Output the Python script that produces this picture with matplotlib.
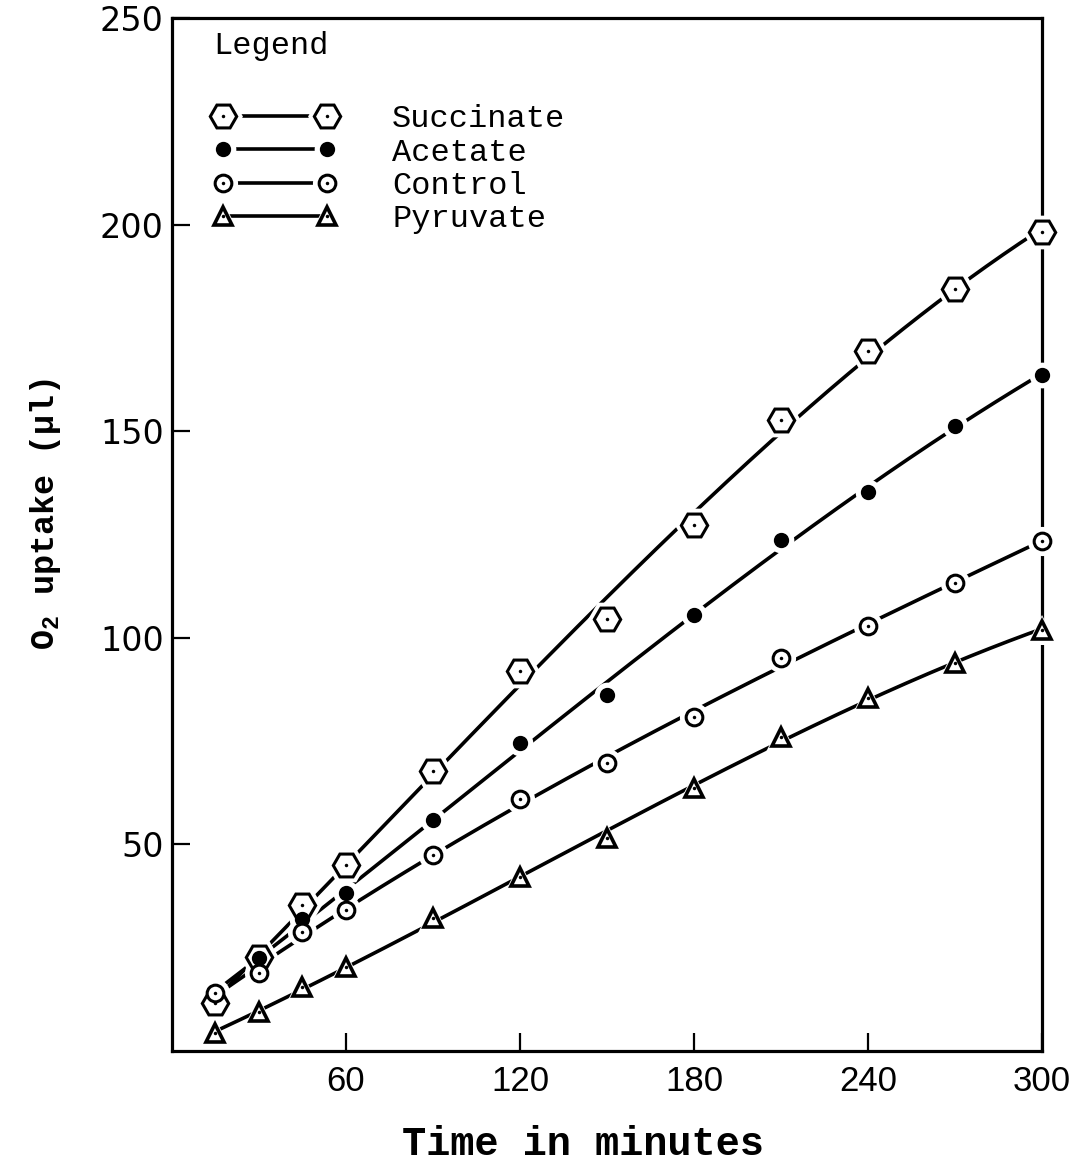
import numpy as np
import matplotlib.pyplot as plt
from matplotlib.legend_handler import HandlerTuple

# Zeit in Minuten
t = np.array([15, 30, 45, 60, 90, 120, 150, 180, 210, 240, 270, 300])

# O2-Aufnahme in Mikroliter
succinat = np.array([11.6, 22.8, 35.4, 45.0, 67.8, 92.0, 104.6, 127.4, 152.8, 169.5, 184.5, 198.1])
acetat = np.array([14.0, 22.5, 32.0, 38.3, 55.9, 74.6, 86.2, 105.6, 123.7, 135.4, 151.3, 163.7])
kontrolle = np.array([14.0, 18.9, 28.8, 34.1, 47.5, 61.0, 69.7, 80.9, 95.2, 102.9, 113.3, 123.5])
pyruvat = np.array([4.4, 9.4, 15.5, 20.3, 32.2, 42.1, 51.6, 63.7, 76.0, 85.5, 93.9, 101.9])

namen = ['Succinate', 'Acetate', 'Control', 'Pyruvate']
xticks = [60, 120, 180, 240, 300]
yticks = [50, 100, 150, 200, 250]

schreibmaschine = ['Liberation Mono', 'DejaVu Sans Mono']


def kurve(ax, y, marker, ms, mfc, mew, punkt):
    # glatte Kurve durch die Messpunkte (Ausgleichspolynom 3. Grades)
    p = np.polyfit(t, y, 3)
    tt = np.linspace(t[0], t[-1], 300)
    linie, = ax.plot(tt, np.polyval(p, tt), '-', color='black', lw=2.6, zorder=2)
    # weisser Rand um die Marker -> Luecke in der Linie
    rand, = ax.plot(t, y, linestyle='none', marker=marker, ms=ms + 9, mfc='white',
                    mec='white', mew=0, zorder=3, clip_on=False)
    pkt, = ax.plot(t, y, linestyle='none', marker=marker, ms=ms, mfc=mfc,
                   mec='black', mew=mew, zorder=4, clip_on=False)
    griffe = [linie, rand, pkt]
    if punkt:
        mitte, = ax.plot(t, y, linestyle='none', marker='o', ms=2.5, mfc='black',
                         mec='black', mew=0, zorder=5, clip_on=False)
        griffe.append(mitte)
    return tuple(griffe)


def plot():
    plt.rcParams['mathtext.fontset'] = 'custom'
    plt.rcParams['mathtext.rm'] = 'Liberation Mono:bold'
    plt.rcParams['mathtext.default'] = 'rm'

    fig = plt.figure(figsize=(10.75, 11.65), dpi=100)
    ax = fig.add_axes([0.16, 0.0979, 0.8093, 0.8866])

    h1 = kurve(ax, succinat, 'H', 19, 'white', 2.2, True)
    h2 = kurve(ax, acetat, 'o', 9.5, 'black', 1.5, False)
    h3 = kurve(ax, kontrolle, 'o', 12, 'white', 2.2, True)
    h4 = kurve(ax, pyruvat, '^', 13, 'white', 2.6, True)

    ax.set_xlim(0, 300)
    ax.set_ylim(0, 250)
    ax.set_xticks(xticks)
    ax.set_yticks(yticks)
    ax.set_xticklabels([str(v) for v in xticks], fontfamily='Liberation Sans', fontsize=25)
    ax.set_yticklabels([str(v) for v in yticks], fontfamily='DejaVu Sans', fontsize=24)
    ax.tick_params(axis='both', direction='in', length=13, width=1.6)
    ax.tick_params(axis='x', pad=10)
    ax.tick_params(axis='y', pad=6)
    for s in ax.spines.values():
        s.set_linewidth(2.3)

    ax.set_xlabel('Time in minutes', fontfamily=schreibmaschine, fontsize=29, fontweight='bold')
    ax.xaxis.set_label_coords(0.472, -0.072)
    ax.set_ylabel('O$_2$ uptake (µl)', fontfamily=schreibmaschine, fontsize=24, fontweight='bold')
    ax.yaxis.set_label_coords(-0.125, 0.52)

    leg = ax.legend([h1, h2, h3, h4], namen, handler_map={tuple: HandlerTuple(ndivide=1)},
                    title='Legend\n', loc='upper left', bbox_to_anchor=(0.029, 1.003),
                    frameon=False, numpoints=2, handlelength=3.85, handletextpad=1.75,
                    labelspacing=0.1, borderpad=0, alignment='left',
                    prop={'family': schreibmaschine, 'size': 23},
                    title_fontproperties={'family': schreibmaschine, 'size': 23})
    leg.get_title().set_linespacing(1.45)

    plt.savefig('out.png', dpi=100)


if __name__ == '__main__':
    plot()
